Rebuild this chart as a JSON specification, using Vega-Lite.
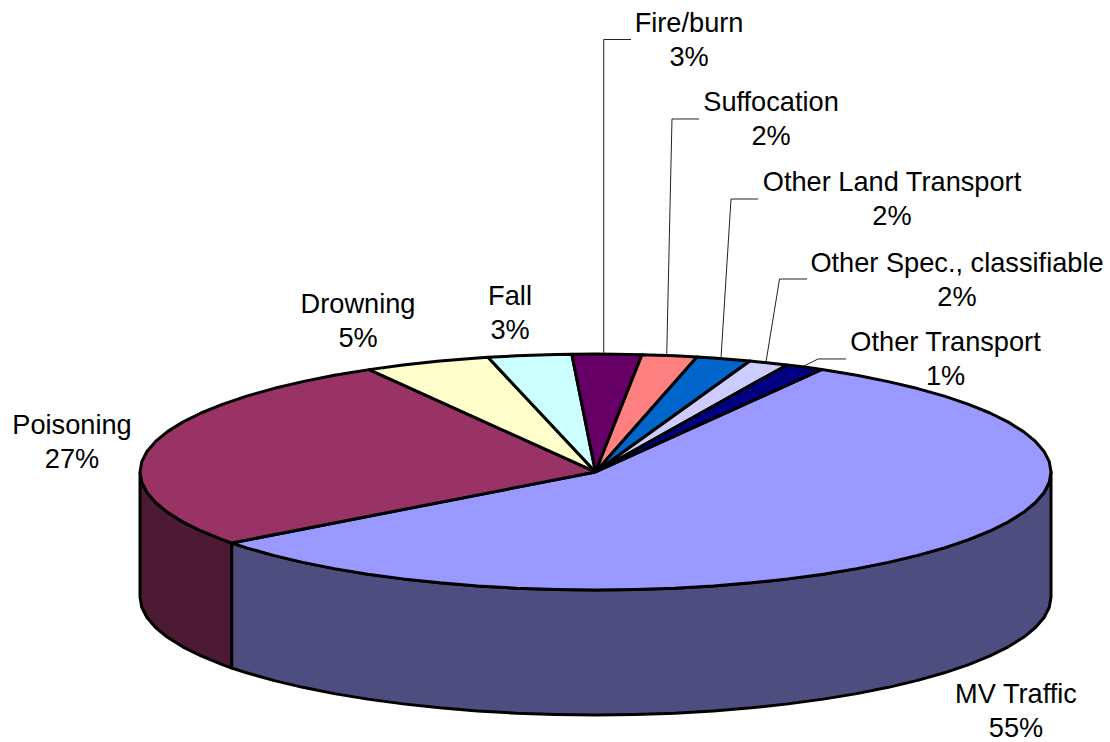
{
"$schema":"https://vega.github.io/schema/vega-lite/v6.json",
"width":1110,"height":742,"padding":0,
"autosize":{"type":"none"},
"background":"white",
"config":{"view":{"stroke":null},"font":"Liberation Sans"},
"datasets":{
"shapes":[
{"part":"Poisoning side","i":0,"x":-100,"y":0},{"part":"Poisoning side","i":1,"x":-99.62,"y":-2.26},{"part":"Poisoning side","i":2,"x":-98.48,"y":-4.5},{"part":"Poisoning side","i":3,"x":-96.59,"y":-6.7},{"part":"Poisoning side","i":4,"x":-93.97,"y":-8.86},{"part":"Poisoning side","i":5,"x":-90.63,"y":-10.95},{"part":"Poisoning side","i":6,"x":-86.6,"y":-12.95},{"part":"Poisoning side","i":7,"x":-81.92,"y":-14.86},{"part":"Poisoning side","i":8,"x":-79.86,"y":-15.59},{"part":"Poisoning side","i":9,"x":-79.86,"y":-43.03},{"part":"Poisoning side","i":10,"x":-81.92,"y":-42.3},{"part":"Poisoning side","i":11,"x":-86.6,"y":-40.39},{"part":"Poisoning side","i":12,"x":-90.63,"y":-38.39},{"part":"Poisoning side","i":13,"x":-93.97,"y":-36.3},{"part":"Poisoning side","i":14,"x":-96.59,"y":-34.14},{"part":"Poisoning side","i":15,"x":-98.48,"y":-31.94},{"part":"Poisoning side","i":16,"x":-99.62,"y":-29.7},{"part":"Poisoning side","i":17,"x":-100,"y":-27.44},{"part":"Poisoning side","i":18,"x":-100,"y":0},
{"part":"MV Traffic side","i":0,"x":-79.86,"y":-15.59},{"part":"MV Traffic side","i":1,"x":-76.6,"y":-16.65},{"part":"MV Traffic side","i":2,"x":-70.71,"y":-18.31},{"part":"MV Traffic side","i":3,"x":-64.28,"y":-19.84},{"part":"MV Traffic side","i":4,"x":-57.36,"y":-21.22},{"part":"MV Traffic side","i":5,"x":-50,"y":-22.43},{"part":"MV Traffic side","i":6,"x":-42.26,"y":-23.47},{"part":"MV Traffic side","i":7,"x":-34.2,"y":-24.34},{"part":"MV Traffic side","i":8,"x":-25.88,"y":-25.02},{"part":"MV Traffic side","i":9,"x":-17.36,"y":-25.51},{"part":"MV Traffic side","i":10,"x":-8.72,"y":-25.8},{"part":"MV Traffic side","i":11,"x":0,"y":-25.9},{"part":"MV Traffic side","i":12,"x":8.72,"y":-25.8},{"part":"MV Traffic side","i":13,"x":17.36,"y":-25.51},{"part":"MV Traffic side","i":14,"x":25.88,"y":-25.02},{"part":"MV Traffic side","i":15,"x":34.2,"y":-24.34},{"part":"MV Traffic side","i":16,"x":42.26,"y":-23.47},{"part":"MV Traffic side","i":17,"x":50,"y":-22.43},{"part":"MV Traffic side","i":18,"x":57.36,"y":-21.22},{"part":"MV Traffic side","i":19,"x":64.28,"y":-19.84},{"part":"MV Traffic side","i":20,"x":70.71,"y":-18.31},{"part":"MV Traffic side","i":21,"x":76.6,"y":-16.65},{"part":"MV Traffic side","i":22,"x":81.92,"y":-14.86},{"part":"MV Traffic side","i":23,"x":86.6,"y":-12.95},{"part":"MV Traffic side","i":24,"x":90.63,"y":-10.95},{"part":"MV Traffic side","i":25,"x":93.97,"y":-8.86},{"part":"MV Traffic side","i":26,"x":96.59,"y":-6.7},{"part":"MV Traffic side","i":27,"x":98.48,"y":-4.5},{"part":"MV Traffic side","i":28,"x":99.62,"y":-2.26},{"part":"MV Traffic side","i":29,"x":100,"y":0},
{"part":"MV Traffic side","i":30,"x":100,"y":-27.44},{"part":"MV Traffic side","i":31,"x":99.62,"y":-29.7},{"part":"MV Traffic side","i":32,"x":98.48,"y":-31.94},{"part":"MV Traffic side","i":33,"x":96.59,"y":-34.14},{"part":"MV Traffic side","i":34,"x":93.97,"y":-36.3},{"part":"MV Traffic side","i":35,"x":90.63,"y":-38.39},{"part":"MV Traffic side","i":36,"x":86.6,"y":-40.39},{"part":"MV Traffic side","i":37,"x":81.92,"y":-42.3},{"part":"MV Traffic side","i":38,"x":76.6,"y":-44.09},{"part":"MV Traffic side","i":39,"x":70.71,"y":-45.75},{"part":"MV Traffic side","i":40,"x":64.28,"y":-47.28},{"part":"MV Traffic side","i":41,"x":57.36,"y":-48.66},{"part":"MV Traffic side","i":42,"x":50,"y":-49.87},{"part":"MV Traffic side","i":43,"x":42.26,"y":-50.91},{"part":"MV Traffic side","i":44,"x":34.2,"y":-51.78},{"part":"MV Traffic side","i":45,"x":25.88,"y":-52.46},{"part":"MV Traffic side","i":46,"x":17.36,"y":-52.95},{"part":"MV Traffic side","i":47,"x":8.72,"y":-53.24},{"part":"MV Traffic side","i":48,"x":0,"y":-53.34},{"part":"MV Traffic side","i":49,"x":-8.72,"y":-53.24},{"part":"MV Traffic side","i":50,"x":-17.36,"y":-52.95},{"part":"MV Traffic side","i":51,"x":-25.88,"y":-52.46},{"part":"MV Traffic side","i":52,"x":-34.2,"y":-51.78},{"part":"MV Traffic side","i":53,"x":-42.26,"y":-50.91},{"part":"MV Traffic side","i":54,"x":-50,"y":-49.87},{"part":"MV Traffic side","i":55,"x":-57.36,"y":-48.66},{"part":"MV Traffic side","i":56,"x":-64.28,"y":-47.28},{"part":"MV Traffic side","i":57,"x":-70.71,"y":-45.75},{"part":"MV Traffic side","i":58,"x":-76.6,"y":-44.09},{"part":"MV Traffic side","i":59,"x":-79.86,"y":-43.03},{"part":"MV Traffic side","i":60,"x":-79.86,"y":-15.59},
{"part":"MV Traffic","i":0,"x":0,"y":0},{"part":"MV Traffic","i":1,"x":49.7,"y":22.5},{"part":"MV Traffic","i":2,"x":57.36,"y":21.22},{"part":"MV Traffic","i":3,"x":64.28,"y":19.84},{"part":"MV Traffic","i":4,"x":70.71,"y":18.31},{"part":"MV Traffic","i":5,"x":76.6,"y":16.65},{"part":"MV Traffic","i":6,"x":81.92,"y":14.86},{"part":"MV Traffic","i":7,"x":86.6,"y":12.95},{"part":"MV Traffic","i":8,"x":90.63,"y":10.95},{"part":"MV Traffic","i":9,"x":93.97,"y":8.86},{"part":"MV Traffic","i":10,"x":96.59,"y":6.7},{"part":"MV Traffic","i":11,"x":98.48,"y":4.5},{"part":"MV Traffic","i":12,"x":99.62,"y":2.26},{"part":"MV Traffic","i":13,"x":100,"y":0},{"part":"MV Traffic","i":14,"x":99.62,"y":-2.26},{"part":"MV Traffic","i":15,"x":98.48,"y":-4.5},{"part":"MV Traffic","i":16,"x":96.59,"y":-6.7},{"part":"MV Traffic","i":17,"x":93.97,"y":-8.86},{"part":"MV Traffic","i":18,"x":90.63,"y":-10.95},{"part":"MV Traffic","i":19,"x":86.6,"y":-12.95},{"part":"MV Traffic","i":20,"x":81.92,"y":-14.86},{"part":"MV Traffic","i":21,"x":76.6,"y":-16.65},{"part":"MV Traffic","i":22,"x":70.71,"y":-18.31},{"part":"MV Traffic","i":23,"x":64.28,"y":-19.84},{"part":"MV Traffic","i":24,"x":57.36,"y":-21.22},{"part":"MV Traffic","i":25,"x":50,"y":-22.43},{"part":"MV Traffic","i":26,"x":42.26,"y":-23.47},{"part":"MV Traffic","i":27,"x":34.2,"y":-24.34},{"part":"MV Traffic","i":28,"x":25.88,"y":-25.02},{"part":"MV Traffic","i":29,"x":17.36,"y":-25.51},{"part":"MV Traffic","i":30,"x":8.72,"y":-25.8},{"part":"MV Traffic","i":31,"x":0,"y":-25.9},{"part":"MV Traffic","i":32,"x":-8.72,"y":-25.8},{"part":"MV Traffic","i":33,"x":-17.36,"y":-25.51},{"part":"MV Traffic","i":34,"x":-25.88,"y":-25.02},{"part":"MV Traffic","i":35,"x":-34.2,"y":-24.34},{"part":"MV Traffic","i":36,"x":-42.26,"y":-23.47},{"part":"MV Traffic","i":37,"x":-50,"y":-22.43},{"part":"MV Traffic","i":38,"x":-57.36,"y":-21.22},{"part":"MV Traffic","i":39,"x":-64.28,"y":-19.84},{"part":"MV Traffic","i":40,"x":-70.71,"y":-18.31},{"part":"MV Traffic","i":41,"x":-76.6,"y":-16.65},{"part":"MV Traffic","i":42,"x":-79.86,"y":-15.59},{"part":"MV Traffic","i":43,"x":0,"y":0},
{"part":"Poisoning","i":0,"x":0,"y":0},{"part":"Poisoning","i":1,"x":-49.7,"y":22.47},{"part":"Poisoning","i":2,"x":-57.36,"y":21.22},{"part":"Poisoning","i":3,"x":-64.28,"y":19.84},{"part":"Poisoning","i":4,"x":-70.71,"y":18.31},{"part":"Poisoning","i":5,"x":-76.6,"y":16.65},{"part":"Poisoning","i":6,"x":-81.92,"y":14.86},{"part":"Poisoning","i":7,"x":-86.6,"y":12.95},{"part":"Poisoning","i":8,"x":-90.63,"y":10.95},{"part":"Poisoning","i":9,"x":-93.97,"y":8.86},{"part":"Poisoning","i":10,"x":-96.59,"y":6.7},{"part":"Poisoning","i":11,"x":-98.48,"y":4.5},{"part":"Poisoning","i":12,"x":-99.62,"y":2.26},{"part":"Poisoning","i":13,"x":-100,"y":0},{"part":"Poisoning","i":14,"x":-99.62,"y":-2.26},{"part":"Poisoning","i":15,"x":-98.48,"y":-4.5},{"part":"Poisoning","i":16,"x":-96.59,"y":-6.7},{"part":"Poisoning","i":17,"x":-93.97,"y":-8.86},{"part":"Poisoning","i":18,"x":-90.63,"y":-10.95},{"part":"Poisoning","i":19,"x":-86.6,"y":-12.95},{"part":"Poisoning","i":20,"x":-81.92,"y":-14.86},{"part":"Poisoning","i":21,"x":-79.86,"y":-15.59},{"part":"Poisoning","i":22,"x":0,"y":0},
{"part":"Drowning","i":0,"x":0,"y":0},{"part":"Drowning","i":1,"x":-23.6,"y":25.17},{"part":"Drowning","i":2,"x":-25.88,"y":25.02},{"part":"Drowning","i":3,"x":-34.2,"y":24.34},{"part":"Drowning","i":4,"x":-42.26,"y":23.47},{"part":"Drowning","i":5,"x":-49.7,"y":22.47},{"part":"Drowning","i":6,"x":0,"y":0},
{"part":"Fall","i":0,"x":0,"y":0},{"part":"Fall","i":1,"x":-5.2,"y":25.86},{"part":"Fall","i":2,"x":-8.72,"y":25.8},{"part":"Fall","i":3,"x":-17.36,"y":25.51},{"part":"Fall","i":4,"x":-23.6,"y":25.17},{"part":"Fall","i":5,"x":0,"y":0},
{"part":"Fire/burn","i":0,"x":0,"y":0},{"part":"Fire/burn","i":1,"x":10.2,"y":25.76},{"part":"Fire/burn","i":2,"x":4.36,"y":25.87},{"part":"Fire/burn","i":3,"x":0,"y":25.9},{"part":"Fire/burn","i":4,"x":-5.2,"y":25.86},{"part":"Fire/burn","i":5,"x":0,"y":0},
{"part":"Suffocation","i":0,"x":0,"y":0},{"part":"Suffocation","i":1,"x":22.28,"y":25.25},{"part":"Suffocation","i":2,"x":17.36,"y":25.51},{"part":"Suffocation","i":3,"x":10.2,"y":25.76},{"part":"Suffocation","i":4,"x":0,"y":0},
{"part":"Other Land Transport","i":0,"x":0,"y":0},{"part":"Other Land Transport","i":1,"x":33.9,"y":24.37},{"part":"Other Land Transport","i":2,"x":25.88,"y":25.02},{"part":"Other Land Transport","i":3,"x":22.28,"y":25.25},{"part":"Other Land Transport","i":4,"x":0,"y":0},
{"part":"Other Spec., classifiable","i":0,"x":0,"y":0},{"part":"Other Spec., classifiable","i":1,"x":42.04,"y":23.5},{"part":"Other Spec., classifiable","i":2,"x":38.1,"y":23.95},{"part":"Other Spec., classifiable","i":3,"x":33.9,"y":24.37},{"part":"Other Spec., classifiable","i":4,"x":0,"y":0},
{"part":"Other Transport","i":0,"x":0,"y":0},{"part":"Other Transport","i":1,"x":49.7,"y":22.5},{"part":"Other Transport","i":2,"x":45.9,"y":23.05},{"part":"Other Transport","i":3,"x":42.04,"y":23.5},{"part":"Other Transport","i":4,"x":0,"y":0}
],
"leaders":[
{"name":"Fire/burn","i":0,"x":1.8,"y":25.9},{"name":"Fire/burn","i":1,"x":1.8,"y":94.95},{"name":"Fire/burn","i":2,"x":7.79,"y":94.95},
{"name":"Suffocation","i":0,"x":15.63,"y":25.69},{"name":"Suffocation","i":1,"x":16.79,"y":77.5},{"name":"Suffocation","i":2,"x":22.72,"y":77.5},
{"name":"Other Land Transport","i":0,"x":27.55,"y":25.03},{"name":"Other Land Transport","i":1,"x":29.75,"y":59.93},{"name":"Other Land Transport","i":2,"x":35.68,"y":59.93},
{"name":"Other Spec., classifiable","i":0,"x":37.43,"y":24.15},{"name":"Other Spec., classifiable","i":1,"x":40.4,"y":42.37},{"name":"Other Spec., classifiable","i":2,"x":46.43,"y":42.37},
{"name":"Other Transport","i":0,"x":45.77,"y":23.27},{"name":"Other Transport","i":1,"x":48.85,"y":24.81},{"name":"Other Transport","i":2,"x":54.99,"y":24.81}
],
"labels":[
{"label":"MV Traffic\n55%","x":92.32,"y":-48.74},
{"label":"Poisoning\n27%","x":-114.93,"y":10.32},
{"label":"Drowning\n5%","x":-52.14,"y":36.88},
{"label":"Fall\n3%","x":-18.77,"y":38.64},
{"label":"Fire/burn\n3%","x":20.53,"y":98.79},
{"label":"Suffocation\n2%","x":38.53,"y":81.23},
{"label":"Other Land Transport\n2%","x":65.09,"y":63.67},
{"label":"Other Spec., classifiable\n2%","x":79.36,"y":46.1},
{"label":"Other Transport\n1%","x":76.84,"y":28.54}
]},
"encoding":{
"x":{"field":"x","type":"quantitative","axis":null,"scale":{"domain":[-130.74,112.95],"nice":false,"zero":false}},
"y":{"field":"y","type":"quantitative","axis":null,"scale":{"domain":[-59.28,103.62],"nice":false,"zero":false}}
},
"layer":[
{"data":{"name":"shapes"},
"mark":{"type":"line","stroke":"black","strokeWidth":3,"strokeJoin":"round"},
"encoding":{
"fill":{"field":"part","type":"nominal","legend":null,"scale":{
"domain":["MV Traffic","Poisoning","Drowning","Fall","Fire/burn","Suffocation","Other Land Transport","Other Spec., classifiable","Other Transport","MV Traffic side","Poisoning side"],
"range":["#9999FF","#993366","#FFFFCC","#CCFFFF","#660066","#FF8080","#0066CC","#CCCCFF","#000080","#4D4D80","#4D1A33"]}},
"order":{"field":"i","type":"quantitative"}}},
{"data":{"name":"leaders"},
"mark":{"type":"line","stroke":"#222222","strokeWidth":1},
"encoding":{"detail":{"field":"name"},"order":{"field":"i","type":"quantitative"}}},
{"data":{"name":"labels"},
"mark":{"type":"text","font":"Liberation Sans","fontSize":27.2,"lineBreak":"\n","lineHeight":34,"align":"center","baseline":"middle","color":"black","dy":1.5},
"encoding":{"text":{"field":"label"}}}
]
}
